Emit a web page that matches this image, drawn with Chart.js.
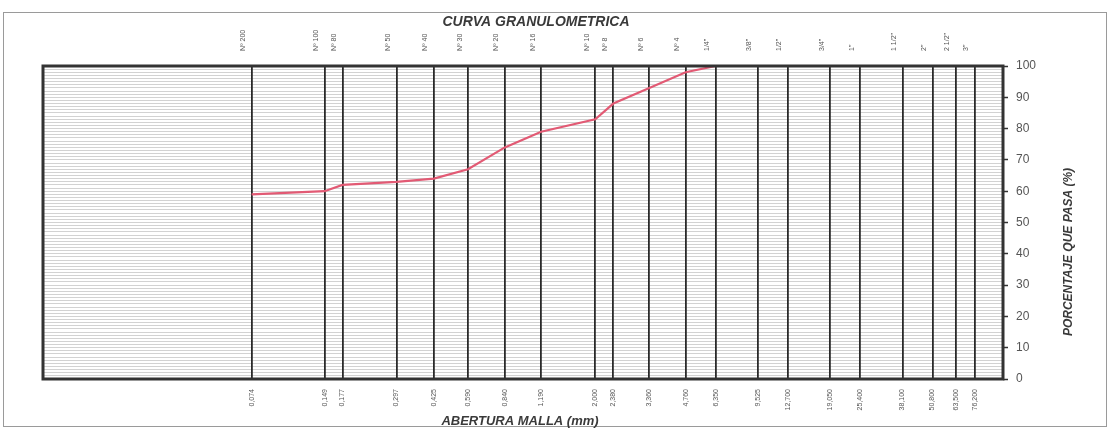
<!DOCTYPE html>
<html>
<head>
<meta charset="utf-8">
<script src="https://cdn.jsdelivr.net/npm/chart.js@4.4.1/dist/chart.umd.min.js"></script>
<style>
  html, body { margin: 0; padding: 0; background: #ffffff; }
  #wrap { width: 1110px; height: 432px; position: relative; }
</style>
</head>
<body>
<div id="wrap"><canvas id="c" width="1110" height="432"></canvas></div>
<script>
// Sieve designations (top axis)
const sieveNames = ['Nº 200', 'Nº 100', 'Nº 80', 'Nº 50', 'Nº 40', 'Nº 30', 'Nº 20', 'Nº 16', 'Nº 10', 'Nº 8', 'Nº 6', 'Nº 4',
  '1/4"', '3/8"', '1/2"', '3/4"', '1"', '1 1/2"', '2"', '2 1/2"', '3"'];
// Sieve openings in mm (x positions on the log axis)
const openingsMm = [0.074, 0.149, 0.177, 0.297, 0.425, 0.590, 0.840, 1.190, 2.000, 2.380, 3.360, 4.760,
  6.350, 9.525, 12.700, 19.050, 25.400, 38.100, 50.800, 63.500, 76.200];
// Opening labels (bottom axis)
const openingLabels = ['0,074', '0,149', '0,177', '0,297', '0,425', '0,590', '0,840', '1,190', '2,000', '2,380', '3,360', '4,760',
  '6,350', '9,525', '12,700', '19,050', '25,400', '38,100', '50,800', '63,500', '76,200'];
// Percent passing each sieve
const percentPassing = [59, 60, 62, 63, 64, 67, 74, 79, 83, 88, 93, 98,
  100, 100, 100, 100, 100, 100, 100, 100, 100];

const chartTitle = 'CURVA GRANULOMETRICA';
const xTitle = 'ABERTURA MALLA (mm)';
const yTitle = 'PORCENTAJE QUE PASA (%)';

const FONT = "'Liberation Sans', Arial, sans-serif";

const curve = openingsMm.map((x, i) => ({ x: x, y: percentPassing[i] }));

const sieveTicks = (scale) => { scale.ticks = openingsMm.map(v => ({ value: v })); };

const decorations = {
  id: 'decorations',
  afterDraw(chart) {
    const { ctx, chartArea: a } = chart;
    ctx.save();
    // sheet frame
    ctx.strokeStyle = '#9a9a9a';
    ctx.lineWidth = 1;
    ctx.strokeRect(3.5, 12.5, 1103, 414);
    // plot frame
    ctx.strokeStyle = '#333333';
    ctx.lineWidth = 3;
    ctx.strokeRect(a.left, a.top, a.right - a.left, a.bottom - a.top);
    // titles
    ctx.fillStyle = '#3a3a3a';
    ctx.textAlign = 'center';
    ctx.textBaseline = 'middle';
    ctx.font = 'italic bold 14px ' + FONT;
    ctx.fillText(chartTitle, 536, 22);
    ctx.font = 'italic bold 13px ' + FONT;
    ctx.fillText(xTitle, 520, 421);
    ctx.translate(1069, 252);
    ctx.rotate(-Math.PI / 2);
    ctx.font = 'italic bold 12px ' + FONT;
    ctx.fillText(yTitle, 0, 0);
    ctx.restore();
  }
};

new Chart(document.getElementById('c'), {
  type: 'line',
  data: {
    datasets: [{
      data: curve,
      borderColor: '#e25a74',
      borderWidth: 2.2,
      pointRadius: 0,
      tension: 0,
      fill: false
    }]
  },
  options: {
    responsive: false,
    animation: false,
    events: [],
    layout: { padding: { left: 43, right: 0, top: 0, bottom: 0 } },
    plugins: { legend: { display: false }, title: { display: false }, tooltip: { enabled: false } },
    scales: {
      x: {
        type: 'logarithmic',
        position: 'bottom',
        min: 0.01,
        max: 100,
        afterBuildTicks: sieveTicks,
        afterFit: (s) => { s.height = 53; },
        grid: { color: '#2a2a2a', lineWidth: 1.8, drawTicks: false, z: -1 },
        border: { display: false },
        ticks: {
          autoSkip: false,
          minRotation: 90,
          maxRotation: 90,
          padding: 10,
          color: '#555555',
          font: { family: FONT, size: 7 },
          callback: (v, i) => openingLabels[i]
        }
      },
      xTop: {
        type: 'logarithmic',
        position: 'top',
        min: 0.01,
        max: 100,
        afterBuildTicks: sieveTicks,
        afterFit: (s) => { s.height = 66; },
        grid: { display: false, drawTicks: false },
        border: { display: false },
        ticks: {
          autoSkip: false,
          minRotation: 90,
          maxRotation: 90,
          padding: 15,
          color: '#555555',
          font: { family: FONT, size: 7 },
          callback: (v, i) => sieveNames[i]
        }
      },
      y: {
        type: 'linear',
        position: 'right',
        min: 0,
        max: 100,
        afterFit: (s) => { s.width = 107; },
        grid: {
          z: -2,
          color: '#c6c6c6',
          lineWidth: 0.8,
          drawTicks: true,
          tickLength: 5,
          tickColor: (c) => (c.tick && c.tick.value % 10 === 0) ? '#333333' : 'rgba(0,0,0,0)',
          tickWidth: 1.5
        },
        border: { display: false },
        ticks: {
          stepSize: 1,
          autoSkip: false,
          padding: 8,
          color: '#555555',
          font: { family: FONT, size: 12 },
          callback: (v) => (v % 10 === 0 ? String(v) : '')
        }
      }
    }
  },
  plugins: [decorations]
});
</script>
</body>
</html>
